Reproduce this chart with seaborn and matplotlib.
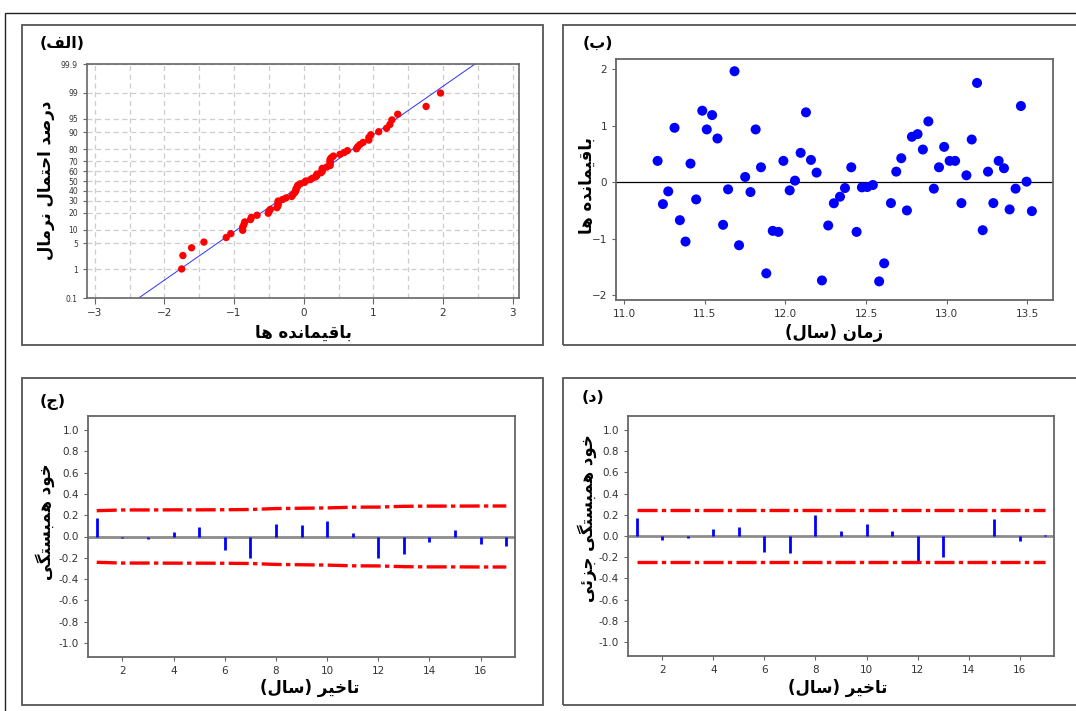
import numpy as np
import matplotlib
matplotlib.use("Agg")
import matplotlib.pyplot as plt
import seaborn as sns
from matplotlib.patches import Rectangle
from statistics import NormalDist

# Residual data
times = [11.208, 11.241, 11.274, 11.313, 11.346, 11.381, 11.412, 11.447, 11.485, 11.513,
         11.546, 11.579, 11.614, 11.645, 11.685, 11.713, 11.751, 11.784, 11.816, 11.849,
         11.882, 11.922, 11.957, 11.988, 12.027, 12.060, 12.095, 12.128, 12.159, 12.194,
         12.227, 12.266, 12.301, 12.339, 12.370, 12.409, 12.442, 12.475, 12.508, 12.543,
         12.582, 12.613, 12.655, 12.688, 12.719, 12.754, 12.785, 12.820, 12.853, 12.887,
         12.921, 12.953, 12.985, 13.019, 13.053, 13.092, 13.123, 13.156, 13.189, 13.224,
         13.257, 13.290, 13.323, 13.356, 13.391, 13.428, 13.461, 13.496, 13.529]
residuals = [0.379, -0.385, -0.160, 0.964, -0.669, -1.047, 0.331, -0.302, 1.266, 0.935,
             1.189, 0.775, -0.751, -0.124, 1.964, -1.112, 0.095, -0.172, 0.935, 0.266,
             -1.609, -0.858, -0.876, 0.379, -0.142, 0.030, 0.521, 1.237, 0.396, 0.172,
             -1.734, -0.763, -0.370, -0.254, -0.101, 0.266, -0.876, -0.089, -0.083, -0.047,
             -1.751, -1.432, -0.367, 0.189, 0.426, -0.497, 0.805, 0.852, 0.580, 1.077,
             -0.112, 0.266, 0.627, 0.379, 0.379, -0.367, 0.124, 0.757, 1.757, -0.846,
             0.189, -0.367, 0.379, 0.249, -0.479, -0.112, 1.349, 0.012, -0.509]

# ACF / PACF
lags = list(range(1, 18))
acf = [0.172, -0.012, -0.028, 0.044, 0.088, -0.122, -0.197, 0.119, 0.109, 0.147,
       0.034, -0.197, -0.166, -0.047, 0.063, -0.072, -0.088]
acf_limit = [0.242, 0.249, 0.249, 0.250, 0.250, 0.251, 0.253, 0.262, 0.265, 0.268,
             0.275, 0.276, 0.283, 0.285, 0.285, 0.286, 0.286]
pacf = [0.172, -0.041, -0.022, 0.063, 0.081, -0.150, -0.159, 0.197, 0.044, 0.113,
        0.044, -0.238, -0.197, -0.003, 0.156, -0.050, 0.013]
pacf_limit = [0.245] * 17

prob_ticks = [0.1, 1, 5, 10, 20, 30, 40, 50, 60, 70, 80, 90, 95, 99, 99.9]
prob_labels = ["0.1", "1", "5", "10", "20", "30", "40", "50", "60", "70", "80", "90", "95", "99", "99.9"]
corr_ticks = [-1.0, -0.8, -0.6, -0.4, -0.2, 0.0, 0.2, 0.4, 0.6, 0.8, 1.0]
corr_labels = ["-1.0", "-0.8", "-0.6", "-0.4", "-0.2", "0.0", "0.2", "0.4", "0.6", "0.8", "1.0"]

# --- minimal Persian shaping (matplotlib has no complex text layout) ---
FORMS = {
    "ا": ("\uFE8D", "\uFE8E", None, None),
    "ب": ("\uFE8F", "\uFE90", "\uFE91", "\uFE92"),
    "ت": ("\uFE95", "\uFE96", "\uFE97", "\uFE98"),
    "ج": ("\uFE9D", "\uFE9E", "\uFE9F", "\uFEA0"),
    "ح": ("\uFEA1", "\uFEA2", "\uFEA3", "\uFEA4"),
    "خ": ("\uFEA5", "\uFEA6", "\uFEA7", "\uFEA8"),
    "د": ("\uFEA9", "\uFEAA", None, None),
    "ر": ("\uFEAD", "\uFEAE", None, None),
    "ز": ("\uFEAF", "\uFEB0", None, None),
    "س": ("\uFEB1", "\uFEB2", "\uFEB3", "\uFEB4"),
    "ص": ("\uFEB9", "\uFEBA", "\uFEBB", "\uFEBC"),
    "ف": ("\uFED1", "\uFED2", "\uFED3", "\uFED4"),
    "ق": ("\uFED5", "\uFED6", "\uFED7", "\uFED8"),
    "ل": ("\uFEDD", "\uFEDE", "\uFEDF", "\uFEE0"),
    "م": ("\uFEE1", "\uFEE2", "\uFEE3", "\uFEE4"),
    "ن": ("\uFEE5", "\uFEE6", "\uFEE7", "\uFEE8"),
    "ه": ("\uFEE9", "\uFEEA", "\uFEEB", "\uFEEC"),
    "و": ("\uFEED", "\uFEEE", None, None),
    "ئ": ("\uFE89", "\uFE8A", "\uFE8B", "\uFE8C"),
    "ی": ("\uFBFC", "\uFBFD", "\uFBFE", "\uFBFF"),
    "گ": ("\uFB92", "\uFB93", "\uFB94", "\uFB95"),
}


def fa(text):
    out = []
    for i, ch in enumerate(text):
        if ch not in FORMS:
            out.append(ch)
            continue
        prev = text[i - 1] if i > 0 else ""
        nxt = text[i + 1] if i + 1 < len(text) else ""
        jp = prev in FORMS and FORMS[prev][2] is not None
        jn = nxt in FORMS and FORMS[ch][2] is not None
        iso, fin, ini, med = FORMS[ch]
        if jp and jn:
            out.append(med)
        elif jp:
            out.append(fin)
        elif jn:
            out.append(ini)
        else:
            out.append(iso)
    return "".join(reversed(out)).translate(str.maketrans("()", ")("))


sns.set_style("ticks")
plt.rcParams["font.family"] = ["DejaVu Sans"]
plt.rcParams["axes.edgecolor"] = "#666666"
plt.rcParams["xtick.color"] = "#666666"
plt.rcParams["ytick.color"] = "#666666"
plt.rcParams["xtick.labelcolor"] = "#333333"
plt.rcParams["ytick.labelcolor"] = "#333333"

W, H = 1076, 711
fig = plt.figure(figsize=(W / 100, H / 100), dpi=100)


def rect(x0, y0, x1, y1):
    return [x0 / W, 1 - y1 / H, (x1 - x0) / W, (y1 - y0) / H]


def pt(x, y):
    return x / W, 1 - y / H


# frames
fig.add_artist(Rectangle(pt(5, 720), 1100 / W, 707 / H, transform=fig.transFigure,
                         fill=False, ec="#222222", lw=1))
for x0, y0, x1, y1 in [(22, 25, 543, 345), (563, 25, 1090, 345),
                       (22, 378, 543, 705), (563, 378, 1090, 705)]:
    fig.add_artist(Rectangle(pt(x0, y1), (x1 - x0) / W, (y1 - y0) / H,
                             transform=fig.transFigure, fill=False, ec="#555555", lw=1.3))

lab = dict(fontsize=12, fontweight="bold", color="black", ha="center", va="center")
ttl = dict(fontsize=11.5, fontweight="bold", color="black", ha="left", va="center")

# ---------- (a) normal probability plot ----------
ax1 = fig.add_axes(rect(87, 64, 519, 298))
nd = NormalDist()
r_sorted = np.sort(residuals)
n = len(r_sorted)
z = [nd.inv_cdf((i + 1 - 0.3) / (n + 0.4)) for i in range(n)]
zmax = nd.inv_cdf(0.999)
ax1.set_xlim(-3.11, 3.09)
ax1.set_ylim(-zmax, zmax)
ax1.set_xticks([-3, -2, -1, 0, 1, 2, 3])
ax1.set_xticks(np.arange(-2.5, 3, 1.0), minor=True)
ax1.set_yticks([nd.inv_cdf(p / 100) for p in prob_ticks])
ax1.set_yticklabels(prob_labels)
ax1.grid(True, which="both", color="#cccccc", ls=(0, (4, 3)), lw=0.9)
ax1.tick_params(axis="y", labelsize=5.5, length=3)
ax1.tick_params(axis="x", labelsize=7.5, length=4)
ax1.tick_params(axis="x", which="minor", length=0)
mu, sd = np.mean(residuals), np.std(residuals, ddof=1)
ax1.axline((mu, 0), slope=1 / sd, color="#3030ff", lw=0.7, zorder=2)
sns.scatterplot(x=r_sorted, y=z, ax=ax1, color="#ff0000", s=28, edgecolor="none", zorder=3)
for s in ax1.spines.values():
    s.set_linewidth(1.2)
fig.text(*pt(40, 43), fa("(الف)"), **ttl)
fig.text(*pt(46, 180), fa("درصد احتمال نرمال"), rotation=90, **lab)
fig.text(*pt(303, 333), fa("باقیمانده ها"), **lab)

# ---------- (b) residuals vs time ----------
ax2 = fig.add_axes(rect(616, 59, 1053, 300))
ax2.axhline(0, color="black", lw=0.9, zorder=1)
sns.scatterplot(x=times, y=residuals, ax=ax2, color="#0000ff", s=52, edgecolor="none", zorder=3)
ax2.set_xlim(10.95, 13.66)
ax2.set_ylim(-2.08, 2.18)
ax2.set_xticks([11.0, 11.5, 12.0, 12.5, 13.0, 13.5])
ax2.set_xticklabels(["11.0", "11.5", "12.0", "12.5", "13.0", "13.5"])
ax2.set_yticks([-2, -1, 0, 1, 2])
ax2.tick_params(labelsize=7.5, length=3)
for s in ax2.spines.values():
    s.set_linewidth(1.3)
fig.text(*pt(583, 43), fa("(ب)"), **ttl)
fig.text(*pt(587, 186), fa("باقیمانده ها"), rotation=90, **lab)
fig.text(*pt(834, 333), fa("زمان (سال)"), **lab)


# ---------- (c) ACF, (d) PACF ----------
def corr_panel(box, vals, limit):
    ax = fig.add_axes(rect(*box))
    ax.axhline(0, color="#8c8c8c", lw=2, zorder=1)
    ax.vlines(lags, 0, vals, color="#0000ff", lw=2, zorder=2)
    dash = (0, (6, 1.3, 1.3, 1.3))
    sns.lineplot(x=lags, y=limit, ax=ax, color="#ff0000", lw=2.4, linestyle=dash, zorder=3)
    sns.lineplot(x=lags, y=[-v for v in limit], ax=ax, color="#ff0000", lw=2.4,
                 linestyle=dash, zorder=3)
    ax.set_xlim(0.66, 17.34)
    ax.set_ylim(-1.13, 1.13)
    ax.set_xticks([2, 4, 6, 8, 10, 12, 14, 16])
    ax.set_yticks(corr_ticks)
    ax.set_yticklabels(corr_labels)
    ax.tick_params(labelsize=7.5, length=3)
    for s in ax.spines.values():
        s.set_linewidth(1.3)
    return ax


ax3 = corr_panel((88, 416, 515, 657), acf, acf_limit)
fig.text(*pt(40, 402), fa("(ج)"), **ttl)
fig.text(*pt(45, 522), fa("خود همبستگی"), rotation=90, **lab)
fig.text(*pt(310, 688), fa("تاخیر (سال)"), **lab)

ax4 = corr_panel((628, 416, 1054, 656), pacf, pacf_limit)
fig.text(*pt(582, 398), fa("(د)"), **ttl)
fig.text(*pt(587, 518), fa("خود همبستگی جزئی"), rotation=90, **lab)
fig.text(*pt(838, 688), fa("تاخیر (سال)"), **lab)

fig.savefig("out.png", dpi=100, facecolor="white")
